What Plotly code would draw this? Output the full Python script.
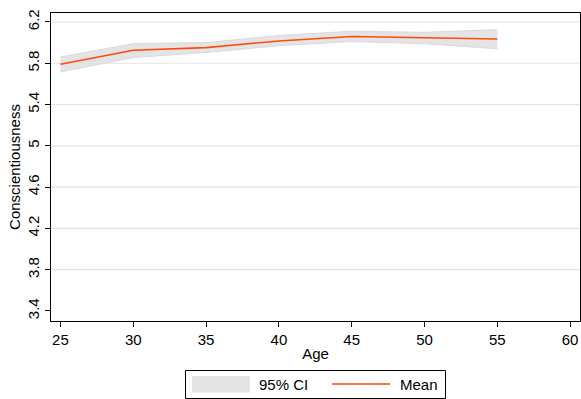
import plotly.graph_objects as go

ages = [25, 30, 35, 40, 45, 50, 55]
mean = [5.79, 5.926, 5.952, 6.016, 6.060, 6.047, 6.035]
ci_upper = [5.861, 5.990, 6.000, 6.070, 6.110, 6.100, 6.126]
ci_lower = [5.716, 5.855, 5.905, 5.970, 6.010, 5.990, 5.940]
y_ticks = [3.4, 3.8, 4.2, 4.6, 5.0, 5.4, 5.8, 6.2]
y_ticktext = ["3.4", "3.8", "4.2", "4.6", "5", "5.4", "5.8", "6.2"]
x_ticks = [25, 30, 35, 40, 45, 50, 55, 60]

W, H = 581, 399
L, R, T, B = 51, 1, 13, 78
FONT = "Liberation Sans, Arial, Helvetica, sans-serif"
FS = 15
CI_FILL = "#e4e4e4"
MEAN_COL = "#ff4a0a"

fig = go.Figure()
fig.add_trace(go.Scatter(x=ages, y=ci_upper, mode="lines", line=dict(width=1, color="#dadada"),
                         showlegend=False, hoverinfo="skip"))
fig.add_trace(go.Scatter(x=ages, y=ci_lower, mode="lines", line=dict(width=1, color="#dadada"),
                         fill="tonexty", fillcolor=CI_FILL, name="95% CI", showlegend=False))
fig.add_trace(go.Scatter(x=ages, y=mean, mode="lines", line=dict(width=1.6, color=MEAN_COL),
                         name="Mean", showlegend=False))

pw, ph = W - L - R, H - T - B
def px(x):
    return (x - L) / pw
def py(y):
    return (H - B - y) / ph

shapes = []
# horizontal grid lines (Stata omits the one at the axis minimum)
for v in y_ticks[1:]:
    shapes.append(dict(type="line", xref="paper", yref="y", x0=0, x1=1, y0=v, y1=v,
                       line=dict(color="#e3e3e3", width=1.2), layer="below"))
# manual legend
shapes.append(dict(type="rect", xref="paper", yref="paper", x0=px(185.5), x1=px(445.5),
                   y0=py(370.5), y1=py(398.5), line=dict(color="black", width=1),
                   fillcolor="white"))
shapes.append(dict(type="rect", xref="paper", yref="paper", x0=px(192), x1=px(250),
                   y0=py(376), y1=py(392.5), line=dict(width=0), fillcolor=CI_FILL))
shapes.append(dict(type="line", xref="paper", yref="paper", x0=px(332), x1=px(390),
                   y0=py(384), y1=py(384), line=dict(color=MEAN_COL, width=1.6)))

annotations = [
    dict(text="95% CI", xref="paper", yref="paper", x=px(257), y=py(384.5), xanchor="left",
         yanchor="middle", showarrow=False, font=dict(family=FONT, size=FS, color="black")),
    dict(text="Mean", xref="paper", yref="paper", x=px(398), y=py(384.5), xanchor="left",
         yanchor="middle", showarrow=False, font=dict(family=FONT, size=FS, color="black")),
]

fig.update_layout(
    width=W, height=H,
    margin=dict(l=L, r=R, t=T, b=B),
    paper_bgcolor="white", plot_bgcolor="white",
    font=dict(family=FONT, size=FS, color="black"),
    showlegend=False,
    shapes=shapes,
    annotations=annotations,
    xaxis=dict(range=[24.35, 60.68], tickvals=x_ticks, ticks="outside", ticklen=5,
               tickcolor="black", showgrid=False, zeroline=False, showline=True,
               linecolor="black", linewidth=1.3, mirror=True,
               title=dict(text="Age", standoff=1, font=dict(size=FS)),
               tickfont=dict(size=FS)),
    yaxis=dict(range=[3.303, 6.287], tickvals=y_ticks, ticktext=y_ticktext, ticks="outside",
               ticklen=5, tickcolor="black", tickangle=-90, showgrid=False, zeroline=False,
               showline=True, linecolor="black", linewidth=1.3, mirror=True,
               title=dict(text="Conscientiousness", standoff=0, font=dict(size=FS)),
               tickfont=dict(size=FS)),
)

fig.write_html("out.html")
